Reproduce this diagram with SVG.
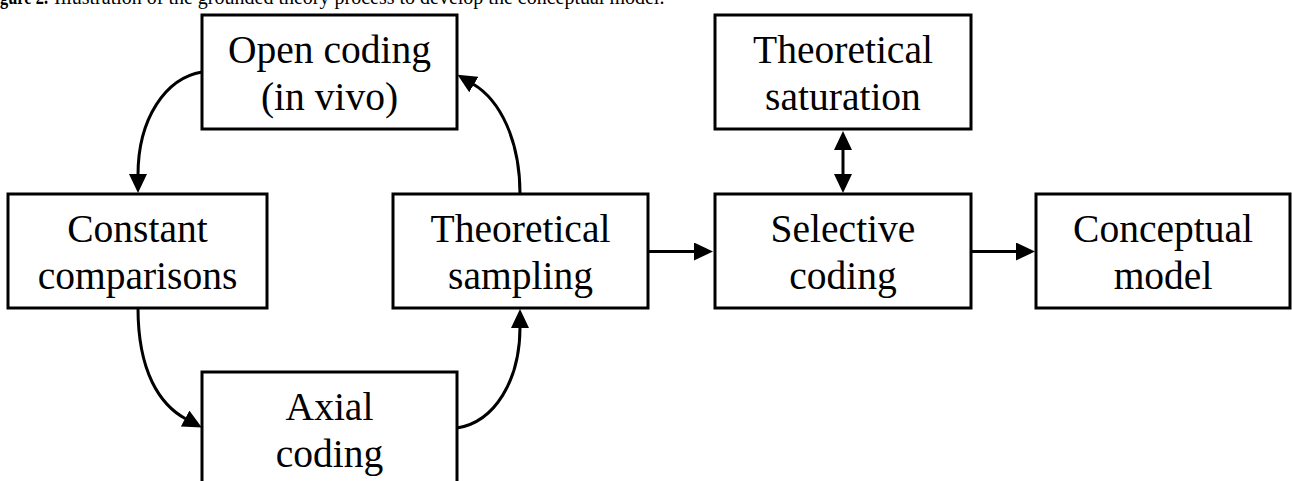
<svg xmlns="http://www.w3.org/2000/svg" width="1292" height="481" viewBox="0 0 1292 481">
<defs>
<style>
.box{fill:#fff;stroke:#000;stroke-width:3}
.t{font-family:"Liberation Serif","Times New Roman",serif;font-size:39.5px;fill:#000;text-anchor:middle}
.cap{font-family:"Liberation Serif","Times New Roman",serif;font-size:20px;fill:#000}
.c{fill:none;stroke:#000;stroke-width:3}
</style>
<marker id="ah" viewBox="0 0 19 18" refX="1" refY="9" markerWidth="19" markerHeight="18" markerUnits="userSpaceOnUse" orient="auto-start-reverse">
<path d="M0,0 L19,9 L0,18 Z" fill="#000"/>
</marker>
</defs>
<rect width="1292" height="481" fill="#fff"/>
<g id="caption">
<text class="cap" x="0" y="4" font-weight="bold" textLength="48" lengthAdjust="spacingAndGlyphs">gure 2.</text>
<text class="cap" x="54" y="4">Illustration of the grounded theory process to develop the conceptual model.</text>
</g>
<g id="connectors">
<path class="c" d="M202,72 C166,78 138,118 138,175" marker-end="url(#ah)"/>
<path class="c" d="M138,308 C138,372 160,405 186,419" marker-end="url(#ah)"/>
<path class="c" d="M457,428 C495,422 520,380 520,327" marker-end="url(#ah)"/>
<path class="c" d="M520,194 C520,140 500,100 473,84" marker-end="url(#ah)"/>
<path class="c" d="M648,251.5 L695,251.5" marker-end="url(#ah)"/>
<path class="c" d="M971,251.5 L1017,251.5" marker-end="url(#ah)"/>
<path class="c" d="M843,149 L843,175" marker-start="url(#ah)" marker-end="url(#ah)"/>
</g>
<g id="open-coding">
<rect class="box" x="202" y="15" width="255" height="114"/>
<text class="t" x="329.5" y="63">Open coding</text>
<text class="t" x="329.5" y="110">(in vivo)</text>
</g>
<g id="constant-comparisons">
<rect class="box" x="8" y="194" width="259" height="114"/>
<text class="t" x="137.5" y="242">Constant</text>
<text class="t" x="137.5" y="289">comparisons</text>
</g>
<g id="theoretical-sampling">
<rect class="box" x="393" y="194" width="255" height="114"/>
<text class="t" x="520.5" y="242">Theoretical</text>
<text class="t" x="520.5" y="289">sampling</text>
</g>
<g id="axial-coding">
<rect class="box" x="202" y="372" width="255" height="125"/>
<text class="t" x="329.5" y="420">Axial</text>
<text class="t" x="329.5" y="467">coding</text>
</g>
<g id="theoretical-saturation">
<rect class="box" x="715" y="15" width="256" height="114"/>
<text class="t" x="843" y="63">Theoretical</text>
<text class="t" x="843" y="110">saturation</text>
</g>
<g id="selective-coding">
<rect class="box" x="715" y="194" width="256" height="114"/>
<text class="t" x="843" y="242">Selective</text>
<text class="t" x="843" y="289">coding</text>
</g>
<g id="conceptual-model">
<rect class="box" x="1036" y="194" width="254" height="114"/>
<text class="t" x="1163" y="242">Conceptual</text>
<text class="t" x="1163" y="289">model</text>
</g>
</svg>
